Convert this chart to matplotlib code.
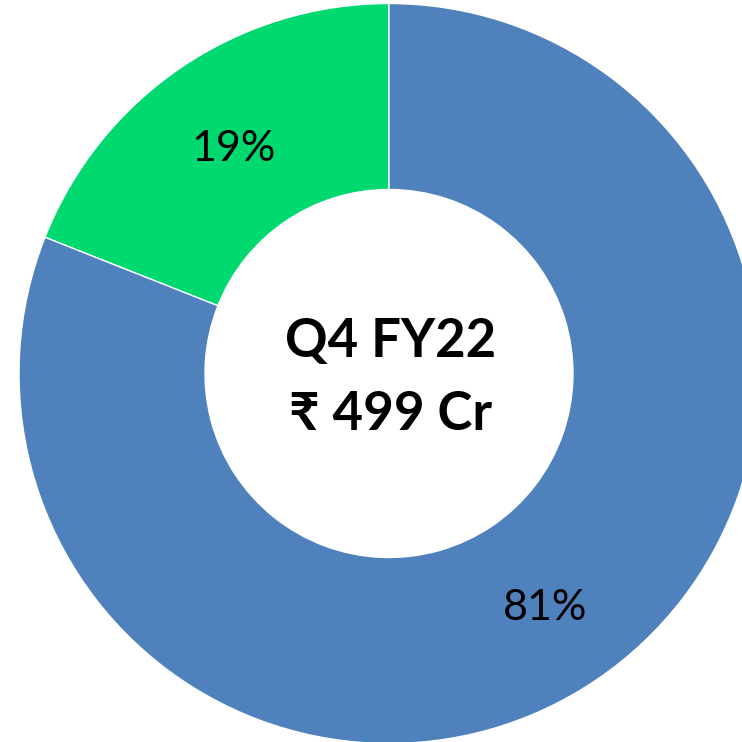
#Donut chart - Q4 FY22 revenue split

import matplotlib.pyplot as plt
import numpy as np

#Share of each segment (%)
shares=[19,81]
labels=['19%','81%']
colors=['#00D970','#4F81BD']

#Centre text
title_line='Q4 FY22'
value_line='\u20b9 499 Cr'

plt.rcParams['font.family']=['Lato','DejaVu Sans']

fig=plt.figure(figsize=(7.42,7.42),dpi=100)
ax=fig.add_axes([0,0,1,1])

#Ring: outer radius 370, inner radius 184
wedges,texts=ax.pie(shares,colors=colors,startangle=90,counterclock=True,
                    center=(389,368.5),radius=370,frame=True,
                    wedgeprops=dict(width=186,edgecolor='white',linewidth=1))
ax.set_xlim(0,742)
ax.set_ylim(0,742)
ax.set_aspect('equal')
ax.axis('off')

#Percent labels in the middle of the ring
start=90
for s,lab in zip(shares,labels):
    mid=np.deg2rad(start+s*3.6/2)
    ax.text(389+277*np.cos(mid),363.5+277*np.sin(mid),lab,fontsize=31,
            ha='center',va='center',color='black')
    start+=s*3.6

ax.text(391,400,title_line,fontsize=38,fontweight='bold',ha='center',va='center')
ax.text(391,328,value_line,fontsize=38,fontweight='bold',ha='center',va='center')

fig.savefig('out.png',dpi=100)
